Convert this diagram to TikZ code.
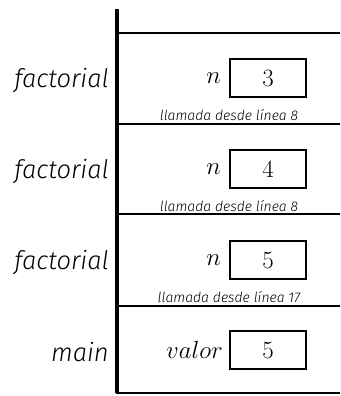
\documentclass[tikz,border=0pt]{standalone}
\usepackage{fontspec}
\newfontfamily\lblfont{Fira Sans Light Italic}
\tikzset{
  frame/.style={line width=4pt},
  sep/.style={line width=2pt},
  valbox/.style={draw, line width=2pt, minimum width=76pt, minimum height=38pt, inner sep=0pt, font=\fontsize{23}{23}\selectfont},
  varlbl/.style={anchor=east, inner sep=0pt, font=\fontsize{23}{23}\selectfont},
  funlbl/.style={anchor=east, inner sep=0pt, font=\lblfont\fontsize{25.5}{25.5}\selectfont},
  calllbl/.style={inner sep=0pt, font=\lblfont\fontsize{14}{14}\selectfont}
}
\begin{document}
\begin{tikzpicture}[x=1pt,y=-1pt]
\useasboundingbox (0,0) rectangle (340,396);
\coordinate (top) at (117,9);
\coordinate (bl) at (117,393);
\coordinate (br) at (340,393);
\draw[frame] (top) -- (bl);
\draw[sep] ([xshift=-1pt]bl) -- (br);
\foreach \y/\n in {33/l0,124/l1,214/l2,306/l3}{
  \coordinate (\n a) at (117,\y);
  \coordinate (\n b) at (340,\y);
  \draw[sep] (\n a) -- (\n b);
}
\node[valbox] (b1) at (268,78) {$3$};
\node[valbox] (b2) at (268,169) {$4$};
\node[valbox] (b3) at (268,260) {$5$};
\node[valbox] (b4) at (268,350) {$5$};
\node[varlbl] (v1) at ([xshift=-8pt]b1.west) {$n$};
\node[varlbl] (v2) at ([xshift=-8pt]b2.west) {$n$};
\node[varlbl] (v3) at ([xshift=-8pt]b3.west) {$n$};
\node[varlbl] (v4) at ([xshift=-6pt]b4.west) {$valor$};
\node[funlbl] (f1) at (109,80) {factorial};
\node[funlbl] (f2) at (109,171) {factorial};
\node[funlbl] (f3) at (109,262) {factorial};
\node[funlbl] (f4) at (109,352) {main};
\node[calllbl] (c1) at (229,115) {llamada desde línea 8};
\node[calllbl] (c2) at (229,206) {llamada desde línea 8};
\node[calllbl] (c3) at (229,297) {llamada desde línea 17};
\end{tikzpicture}
\end{document}
